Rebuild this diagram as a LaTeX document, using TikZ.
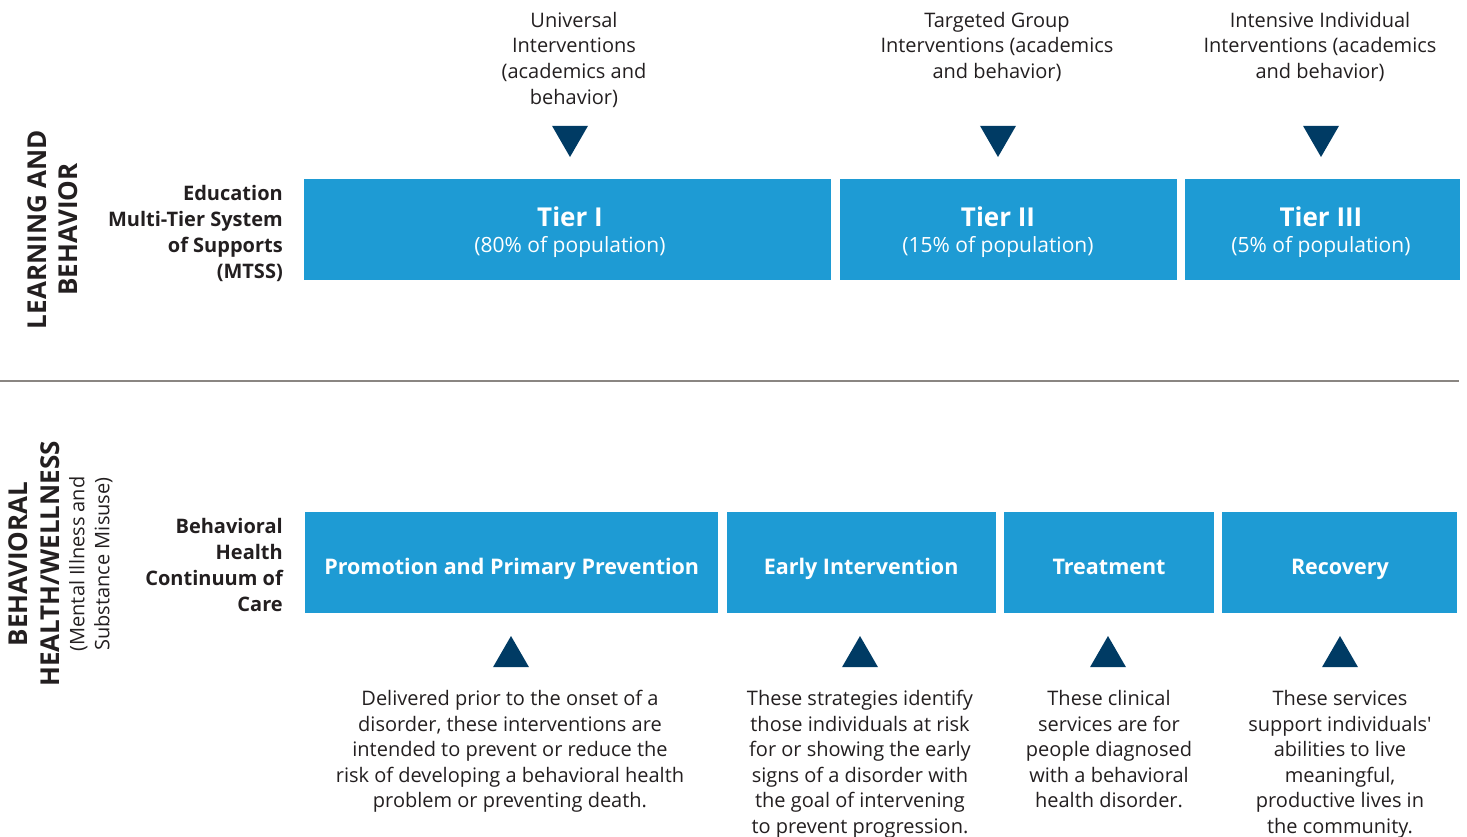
\documentclass[tikz,border=0pt]{standalone}
\usepackage{fontspec}
\setmainfont{Open Sans}
\usepackage{tikz}
\usetikzlibrary{positioning,          % placement relatif des boites
           shapes.geometric}          % triangles
\definecolor{bleu}{RGB}{30,155,212}
\definecolor{marine}{RGB}{0,59,100}
\definecolor{encre}{RGB}{35,31,32}
\definecolor{trait}{RGB}{138,134,130}
\tikzset{
  boite/.style={fill=bleu, text=white, inner sep=0, minimum height=101pt, align=center,
                text height=23pt, text depth=0pt,
                font=\fontsize{21.5}{23}\selectfont\bfseries},
  palier/.style={fill=bleu, inner sep=0, minimum height=101pt},
  etiquette/.style={text=white, inner sep=0, align=center,
                    font=\fontsize{21}{25.5}\selectfont},
  fleche/.style={fill=marine, regular polygon, regular polygon sides=3,
                 minimum size=41.6pt, inner sep=0},
  legende/.style={text=encre, inner sep=0, align=center, anchor=north,
                  font=\fontsize{20}{25.6}\selectfont},
  titre/.style={text=encre, inner sep=0, align=right, anchor=north east,
                font=\fontsize{20}{26}\selectfont\bfseries},
  section/.style={text=encre, inner sep=0, align=center, rotate=90,
                  font=\fontsize{26}{31.5}\selectfont\bfseries}
}
\newcommand{\tier}[2]{\rule{0pt}{24.6pt}{\fontsize{26}{26}\selectfont\bfseries #1}\\(#2\% of population)}

\begin{document}
\begin{tikzpicture}[x=1pt,y=-1pt]
\useasboundingbox (0,0) rectangle (1467,836);
% Apprentissage et comportement
\node[section] (LB) at (52.5,229.5) {LEARNING AND\\BEHAVIOR};
\node[titre] (MTSS) at (283,185) {Education\\Multi-Tier System\\of Supports\\(MTSS)};
\node[palier, minimum width=527pt, anchor=north west] (T1) at (304,179) {};
\node[palier, minimum width=337pt, right=8pt of T1] (T2) {};
\node[palier, minimum width=275pt, right=8pt of T2] (T3) {};
\node[fleche, shape border rotate=180] (F1) at (570,136.2) {};
\node[fleche, shape border rotate=180] (F2) at (998,136.2) {};
\node[fleche, shape border rotate=180] (F3) at (1321,136.2) {};
\node[etiquette] (L1) at (F1 |- T1) {\tier{Tier I}{80}};
\node[etiquette] (L2) at (F2 |- T2) {\tier{Tier II}{15}};
\node[etiquette] (L3) at (F3 |- T3) {\tier{Tier III}{5}};
\node[legende] (U1) at (574,12) {Universal\\Interventions\\(academics and\\behavior)};
\node[legende] (U2) at (997,12) {Targeted Group\\Interventions (academics\\and behavior)};
\node[legende] (U3) at (1320,12) {Intensive Individual\\Interventions (academics\\and behavior)};
\draw[trait, line width=1.5pt] (0,381) -- (1459,381);
% Sante comportementale
\node[section] (BH) at (34,564) {BEHAVIORAL\\HEALTH/WELLNESS};
\node[section, font=\fontsize{20}{25}\selectfont] (MI) at (90.8,564) {(Mental Illness and\\Substance Misuse)};
\node[titre] (BHC) at (283,518) {Behavioral\\Health\\Continuum of\\Care};
\node[boite, minimum width=413pt, anchor=north west] (P1) at (305,512) {Promotion and Primary Prevention};
\node[boite, minimum width=269pt, right=8pt of P1] (P2) {Early Intervention};
\node[boite, minimum width=210pt, right=8pt of P2] (P3) {Treatment};
\node[boite, minimum width=235pt, right=8pt of P3] (P4) {Recovery};
\node[fleche] (G1) at (511,656.8) {};
\node[fleche] (G2) at (860,656.8) {};
\node[fleche] (G3) at (1108,656.8) {};
\node[fleche] (G4) at (1340,656.8) {};
\node[legende] (D1) at (510,690) {Delivered prior to the onset of a\\disorder, these interventions are\\intended to prevent or reduce the\\risk of developing a behavioral health\\problem or preventing death.};
\node[legende] (D2) at (860,690) {These strategies identify\\those individuals at risk\\for or showing the early\\signs of a disorder with\\the goal of intervening\\to prevent progression.};
\node[legende] (D3) at (1109,690) {These clinical\\services are for\\people diagnosed\\with a behavioral\\health disorder.};
\node[legende] (D4) at (1340,690) {These services\\support individuals\textquotesingle\\abilities to live\\meaningful,\\productive lives in\\the community.};
\end{tikzpicture}
\end{document}
